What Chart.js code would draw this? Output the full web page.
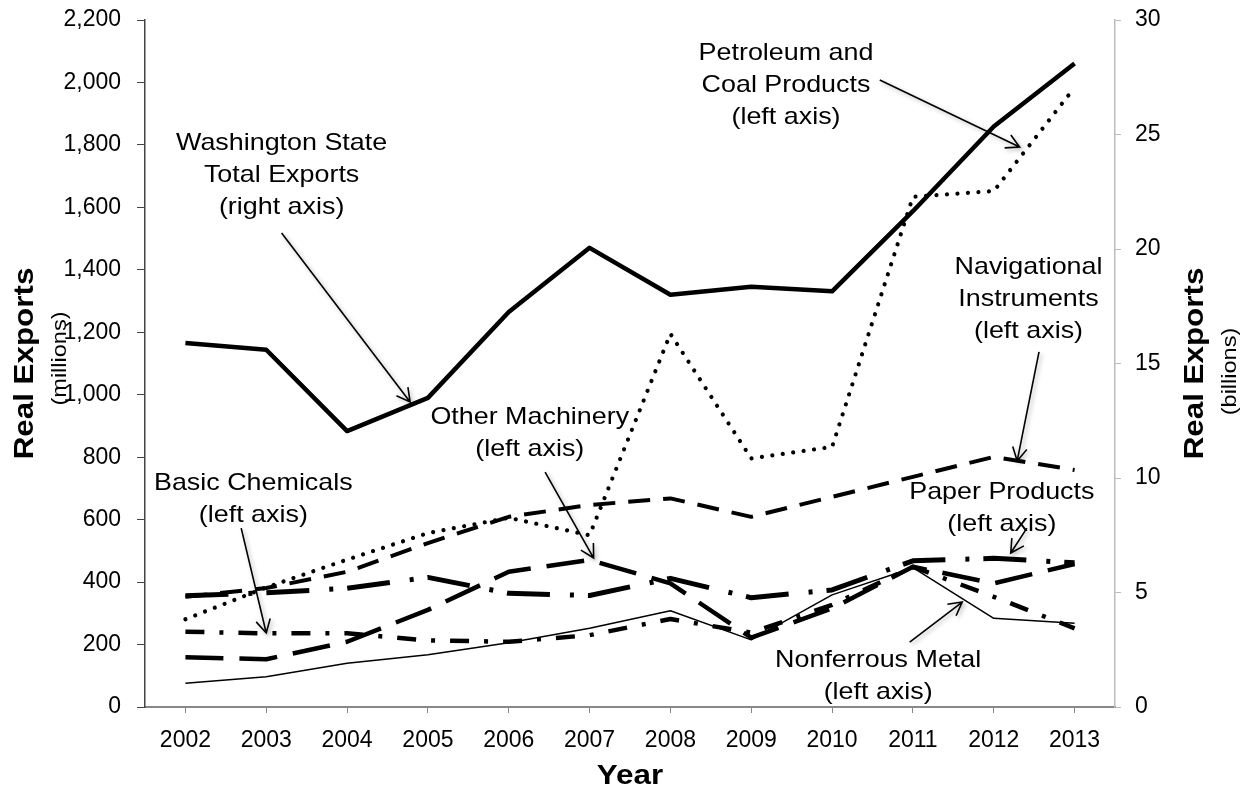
<!DOCTYPE html>
<html>
<head>
<meta charset="utf-8">
<script src="https://cdn.jsdelivr.net/npm/chart.js@4.4.1/dist/chart.umd.min.js"></script>
<style>
    html, body { margin: 0; padding: 0; background: #fff; }
    #wrap { width: 1252px; height: 796px; }
</style>
</head>
<body>
<div id="wrap"><canvas id="exportsChart" width="1252" height="796"></canvas></div>
<script>
const YEARS = ["2002", "2003", "2004", "2005", "2006", "2007", "2008", "2009", "2010", "2011", "2012", "2013"];

// right axis, billions
const TOTAL_EXPORTS = [15.9, 15.6, 12.05, 13.5, 17.25, 20.05, 18.0, 18.35, 18.15, 21.65, 25.35, 28.1];

// left axis, millions
const PETROLEUM_COAL = [281, 383, 472, 557, 606, 550, 1195, 796, 833, 1634, 1652, 1984];
const NAVIGATIONAL = [353, 381, 433, 525, 609, 647, 668, 609, 673, 737, 801, 759];
const OTHER_MACHINERY = [159, 153, 209, 311, 433, 471, 396, 222, 316, 449, 396, 458];
const PAPER_PRODUCTS = [356, 366, 380, 415, 364, 357, 412, 350, 375, 468, 476, 462];
const BASIC_CHEMICALS = [241, 236, 236, 213, 209, 230, 282, 238, 327, 449, 353, 252];
const NONFERROUS_METAL = [76, 97, 140, 167, 206, 252, 308, 215, 359, 446, 284, 268];

// callouts: text centre, arrow start and arrow tip, in (year index, left-axis value)
const CALLOUTS = [
    { lines: ["Washington State", "Total Exports", "(right axis)"], at: [1.19, 1806], from: [1.19, 1518], to: [2.78, 977] },
    { lines: ["Petroleum and", "Coal Products", "(left axis)"], at: [7.43, 2094], from: [8.59, 2008], to: [10.32, 1793] },
    { lines: ["Navigational", "Instruments", "(left axis)"], at: [10.43, 1409], from: [10.56, 1137], to: [10.29, 788] },
    { lines: ["Other Machinery", "(left axis)"], at: [4.26, 929], from: [4.45, 752], to: [5.05, 477] },
    { lines: ["Basic Chemicals", "(left axis)"], at: [0.84, 717], from: [0.69, 573], to: [1.0, 237] },
    { lines: ["Paper Products", "(left axis)"], at: [10.1, 688], from: [10.41, 573], to: [10.21, 493] },
    { lines: ["Nonferrous Metal", "(left axis)"], at: [8.57, 150], from: [8.96, 208], to: [9.61, 336] },
];

const FONT = "'Liberation Sans', Arial, sans-serif";
const STRETCH = 1.12; // the source text is a bit wider than plain Arial

function drawArrow(ctx, x1, y1, x2, y2) {
    const angle = Math.atan2(y2 - y1, x2 - x1);
    const head = 15;
    ctx.beginPath();
    ctx.moveTo(x1, y1);
    ctx.lineTo(x2, y2);
    ctx.moveTo(x2 - head * Math.cos(angle - 0.5), y2 - head * Math.sin(angle - 0.5));
    ctx.lineTo(x2, y2);
    ctx.lineTo(x2 - head * Math.cos(angle + 0.5), y2 - head * Math.sin(angle + 0.5));
    ctx.stroke();
}

function wideText(ctx, text, x, y, font, rotate) {
    ctx.save();
    ctx.translate(x, y);
    if (rotate) ctx.rotate(-Math.PI / 2);
    ctx.scale(STRETCH, 1);
    ctx.font = font;
    ctx.textAlign = "center";
    ctx.textBaseline = "middle";
    ctx.fillText(text, 0, 0);
    ctx.restore();
}

const calloutPlugin = {
    id: "callouts",
    afterDatasetsDraw(chart) {
        const { ctx, scales: { x, y } } = chart;
        ctx.save();
        ctx.fillStyle = "#000";
        ctx.strokeStyle = "#000";
        ctx.lineWidth = 1.6;

        CALLOUTS.forEach(c => {
            const tx = x.getPixelForValue(c.at[0]);
            const ty = y.getPixelForValue(c.at[1]);
            c.lines.forEach((line, i) => wideText(ctx, line, tx, ty + i * 32, "24px " + FONT, false));

            ctx.save();
            ctx.shadowColor = "rgba(0,0,0,0.3)";
            ctx.shadowBlur = 4;
            ctx.shadowOffsetX = 2;
            ctx.shadowOffsetY = 2;
            drawArrow(ctx,
                x.getPixelForValue(c.from[0]), y.getPixelForValue(c.from[1]),
                x.getPixelForValue(c.to[0]), y.getPixelForValue(c.to[1]));
            ctx.restore();
        });
        ctx.restore();
    },
    afterDraw(chart) {
        const { ctx, chartArea } = chart;
        const midY = (chartArea.top + chartArea.bottom) / 2;
        ctx.save();
        ctx.fillStyle = "#000";
        wideText(ctx, "Real Exports", chartArea.left - 120, midY, "bold 28px " + FONT, true);
        wideText(ctx, "(millions)", chartArea.left - 85, midY - 5, "21px " + FONT, true);
        wideText(ctx, "Real Exports", chartArea.right + 80, midY, "bold 28px " + FONT, true);
        wideText(ctx, "(billions)", chartArea.right + 115, midY + 8, "21px " + FONT, true);
        wideText(ctx, "Year", (chartArea.left + chartArea.right) / 2, 776, "bold 28px " + FONT, false);
        ctx.restore();
    }
};

function series(data, axis, width, dash, cap) {
    return {
        data: data,
        yAxisID: axis,
        borderColor: "#000",
        backgroundColor: "#000",
        borderWidth: width,
        borderDash: dash,
        borderCapStyle: cap || "butt",
        borderJoinStyle: "round",
        pointRadius: 0,
        pointHoverRadius: 0,
        tension: 0,
        fill: false,
    };
}

// y axes: fixed width, and no extra label padding so the plot starts at the layout padding
function fitVertical(width) {
    return scale => {
        scale.width = width;
        scale.paddingTop = 0;
        scale.paddingBottom = 0;
    };
}

const ctx = document.getElementById("exportsChart").getContext("2d");

new Chart(ctx, {
    type: "line",
    data: {
        labels: YEARS,
        datasets: [
            series(NONFERROUS_METAL, "y", 1.5, []),
            series(BASIC_CHEMICALS, "y", 4.5, [19, 15, 4, 15]),
            series(OTHER_MACHINERY, "y", 4.5, [38, 16]),
            series(PAPER_PRODUCTS, "y", 5, [43, 20, 4, 14]),
            series(NAVIGATIONAL, "y", 4, [22, 13]),
            series(PETROLEUM_COAL, "y", 4.2, [0.01, 10.5], "round"),
            series(TOTAL_EXPORTS, "y2", 4.5, []),
        ]
    },
    options: {
        responsive: false,
        animation: false,
        devicePixelRatio: 1,
        layout: { padding: { top: 20, left: 0, right: 0, bottom: 0 } },
        plugins: {
            legend: { display: false },
            tooltip: { enabled: false },
        },
        scales: {
            x: {
                offset: true,
                grid: { offset: false, drawOnChartArea: false, drawTicks: true, tickLength: 6, color: "#888" },
                border: { display: true, color: "#888", width: 2 },
                ticks: { color: "#000", font: { family: FONT, size: 23 }, padding: 14, maxRotation: 0, autoSkip: false },
                afterFit: scale => { scale.height = 89; },
            },
            y: {
                position: "left",
                min: 0,
                max: 2200,
                grid: { drawOnChartArea: false, drawTicks: true, tickLength: 8, color: "#444" },
                border: { display: true, color: "#444", width: 1.5 },
                ticks: {
                    stepSize: 200,
                    color: "#000",
                    font: { family: FONT, size: 23 },
                    padding: 16,
                    callback: v => v.toLocaleString("en-US"),
                },
                afterFit: fitVertical(145),
            },
            y2: {
                position: "right",
                min: 0,
                max: 30,
                grid: { drawOnChartArea: false, drawTicks: true, tickLength: 6, color: "#bbb" },
                border: { display: true, color: "#bbb", width: 1.5 },
                ticks: { stepSize: 5, color: "#000", font: { family: FONT, size: 23 }, padding: 14 },
                afterFit: fitVertical(137),
            }
        }
    },
    plugins: [calloutPlugin]
});
</script>
</body>
</html>
